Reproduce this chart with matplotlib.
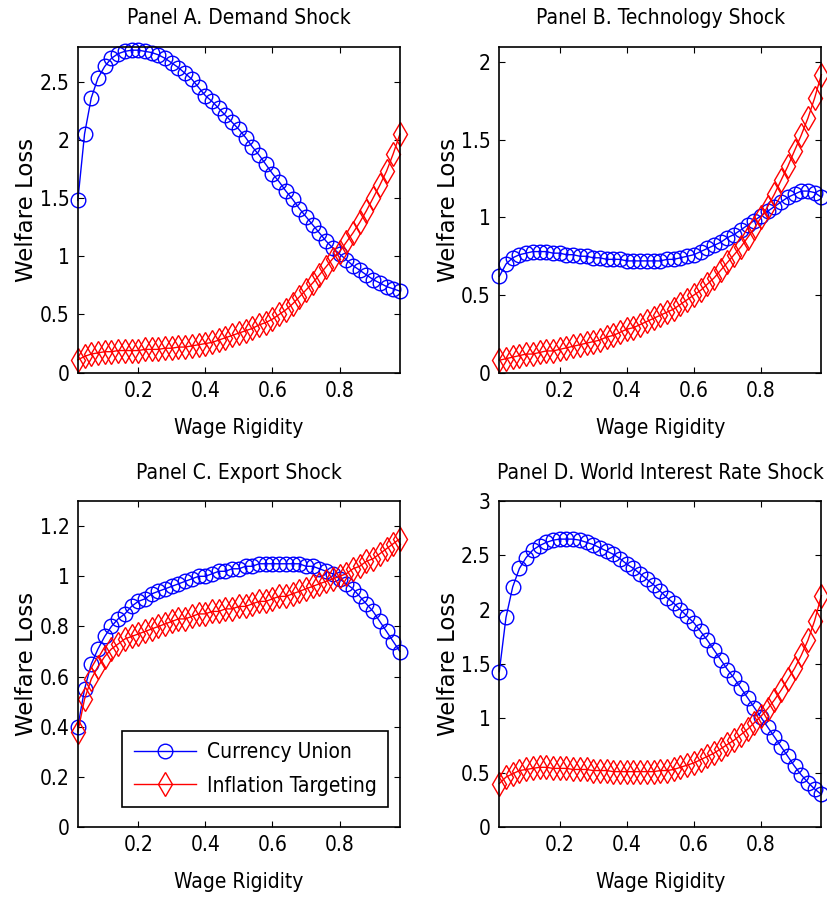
import matplotlib
matplotlib.use("Agg")
import matplotlib.pyplot as plt

plt.rcParams['font.family'] = ['DejaVu Sans']
plt.rcParams['font.stretch'] = 'condensed'

wage = [0.02, 0.04, 0.06, 0.08, 0.10, 0.12, 0.14, 0.16, 0.18, 0.20,
        0.22, 0.24, 0.26, 0.28, 0.30, 0.32, 0.34, 0.36, 0.38, 0.40,
        0.42, 0.44, 0.46, 0.48, 0.50, 0.52, 0.54, 0.56, 0.58, 0.60,
        0.62, 0.64, 0.66, 0.68, 0.70, 0.72, 0.74, 0.76, 0.78, 0.80,
        0.82, 0.84, 0.86, 0.88, 0.90, 0.92, 0.94, 0.96, 0.98]

# Panel A. Demand Shock
cu_a = [1.48, 2.05, 2.36, 2.53, 2.63, 2.70, 2.74, 2.76, 2.77, 2.77,
        2.76, 2.75, 2.73, 2.70, 2.66, 2.62, 2.57, 2.52, 2.45, 2.38,
        2.33, 2.27, 2.21, 2.15, 2.09, 2.02, 1.94, 1.87, 1.79, 1.71,
        1.64, 1.56, 1.49, 1.41, 1.34, 1.27, 1.20, 1.13, 1.07, 1.02,
        0.97, 0.92, 0.88, 0.84, 0.80, 0.77, 0.74, 0.72, 0.70]
it_a = [0.11, 0.14, 0.16, 0.17, 0.18, 0.18, 0.19, 0.19, 0.19, 0.19,
        0.20, 0.20, 0.20, 0.21, 0.21, 0.22, 0.22, 0.23, 0.24, 0.25,
        0.26, 0.28, 0.30, 0.32, 0.34, 0.36, 0.38, 0.41, 0.43, 0.46,
        0.50, 0.54, 0.59, 0.65, 0.71, 0.77, 0.84, 0.91, 0.98, 1.04,
        1.12, 1.20, 1.29, 1.39, 1.50, 1.61, 1.73, 1.88, 2.05]

# Panel B. Technology Shock
cu_b = [0.62, 0.70, 0.74, 0.76, 0.77, 0.78, 0.78, 0.78, 0.77, 0.77,
        0.76, 0.76, 0.75, 0.75, 0.74, 0.74, 0.73, 0.73, 0.73, 0.72,
        0.72, 0.72, 0.72, 0.72, 0.72, 0.73, 0.73, 0.74, 0.75, 0.76,
        0.78, 0.80, 0.82, 0.84, 0.87, 0.89, 0.92, 0.95, 0.98, 1.01,
        1.04, 1.07, 1.10, 1.13, 1.15, 1.17, 1.17, 1.16, 1.13]
it_b = [0.08, 0.09, 0.10, 0.11, 0.12, 0.12, 0.13, 0.14, 0.14, 0.15,
        0.16, 0.17, 0.18, 0.19, 0.20, 0.21, 0.23, 0.24, 0.26, 0.28,
        0.29, 0.31, 0.33, 0.35, 0.37, 0.39, 0.41, 0.44, 0.47, 0.50,
        0.53, 0.57, 0.61, 0.66, 0.71, 0.76, 0.81, 0.87, 0.93, 1.00,
        1.07, 1.15, 1.24, 1.33, 1.43, 1.53, 1.64, 1.77, 1.92]

# Panel C. Export Shock
cu_c = [0.40, 0.55, 0.65, 0.71, 0.76, 0.80, 0.83, 0.85, 0.88, 0.90,
        0.91, 0.93, 0.94, 0.95, 0.96, 0.97, 0.98, 0.99, 1.00, 1.00,
        1.01, 1.02, 1.02, 1.03, 1.03, 1.04, 1.04, 1.05, 1.05, 1.05,
        1.05, 1.05, 1.05, 1.05, 1.04, 1.04, 1.03, 1.02, 1.01, 0.99,
        0.97, 0.95, 0.92, 0.89, 0.86, 0.82, 0.78, 0.74, 0.70]
it_c = [0.38, 0.51, 0.59, 0.64, 0.68, 0.71, 0.73, 0.75, 0.76, 0.77,
        0.78, 0.79, 0.80, 0.81, 0.82, 0.83, 0.83, 0.84, 0.85, 0.85,
        0.86, 0.86, 0.87, 0.87, 0.88, 0.88, 0.89, 0.90, 0.90, 0.91,
        0.92, 0.92, 0.93, 0.94, 0.95, 0.96, 0.97, 0.98, 0.99, 1.00,
        1.01, 1.03, 1.04, 1.06, 1.07, 1.09, 1.11, 1.13, 1.15]

# Panel D. World Interest Rate Shock
cu_d = [1.43, 1.93, 2.21, 2.38, 2.48, 2.55, 2.59, 2.62, 2.64, 2.65,
        2.65, 2.65, 2.64, 2.62, 2.60, 2.57, 2.54, 2.51, 2.47, 2.42,
        2.38, 2.33, 2.28, 2.23, 2.17, 2.11, 2.06, 2.00, 1.94, 1.88,
        1.80, 1.72, 1.63, 1.54, 1.45, 1.37, 1.28, 1.19, 1.10, 1.01,
        0.92, 0.83, 0.74, 0.65, 0.56, 0.48, 0.41, 0.35, 0.30]
it_d = [0.40, 0.46, 0.49, 0.52, 0.53, 0.54, 0.55, 0.55, 0.54, 0.54,
        0.54, 0.53, 0.53, 0.53, 0.52, 0.52, 0.52, 0.51, 0.51, 0.51,
        0.51, 0.51, 0.51, 0.51, 0.52, 0.52, 0.53, 0.55, 0.57, 0.59,
        0.62, 0.65, 0.68, 0.72, 0.76, 0.80, 0.85, 0.90, 0.96, 1.02,
        1.09, 1.17, 1.26, 1.36, 1.46, 1.58, 1.72, 1.90, 2.13]

titles = ["Panel A. Demand Shock", "Panel B. Technology Shock",
          "Panel C. Export Shock", "Panel D. World Interest Rate Shock"]
ylims = [2.8, 2.1, 1.3, 3.0]
yticks = [[0, 0.5, 1, 1.5, 2, 2.5], [0, 0.5, 1, 1.5, 2],
          [0, 0.2, 0.4, 0.6, 0.8, 1, 1.2], [0, 0.5, 1, 1.5, 2, 2.5, 3]]
series = [(cu_a, it_a), (cu_b, it_b), (cu_c, it_c), (cu_d, it_d)]

fig = plt.figure(figsize=(8.28, 8.98), dpi=100)
positions = [[0.094, 0.585, 0.389, 0.363], [0.603, 0.585, 0.389, 0.363],
             [0.094, 0.079, 0.389, 0.363], [0.603, 0.079, 0.389, 0.363]]

fs = 15
for i in range(4):
    ax = fig.add_axes(positions[i])
    cu, it = series[i]
    ax.plot(wage, cu, color=(0, 0, 1), lw=1, marker='o', ms=10.5,
            mfc='none', mew=1, label='Currency Union', clip_on=False)
    ax.plot(wage, it, color=(1, 0, 0), lw=1, marker='d', ms=12,
            mfc='none', mew=1, label='Inflation Targeting', clip_on=False)
    ax.set_xlim(0.02, 0.98)
    ax.set_ylim(0, ylims[i])
    ax.set_xticks([0.2, 0.4, 0.6, 0.8])
    ax.set_xticklabels(['0.2', '0.4', '0.6', '0.8'])
    ax.set_yticks(yticks[i])
    ax.set_yticklabels([f'{t:g}' for t in yticks[i]])
    ax.tick_params(direction='in', top=True, right=True, length=4,
                   labelsize=fs, pad=6)
    for sp in ax.spines.values():
        sp.set_linewidth(1.2)
    ax.set_title(titles[i], fontsize=fs, pad=16)
    ax.set_xlabel("Wage Rigidity", fontsize=fs, labelpad=12)
    ax.set_ylabel("Welfare Loss", fontsize=16.5, labelpad=1,
                  fontstretch='normal')
    if i == 2:
        leg = ax.legend(loc='lower right', bbox_to_anchor=(0.963, 0.061),
                        borderaxespad=0, fontsize=fs, fancybox=False,
                        edgecolor='black', framealpha=1, handlelength=3.0,
                        borderpad=0.55, labelspacing=0.65, handletextpad=0.5)
        leg.get_frame().set_linewidth(1.2)

fig.savefig("out.png", dpi=100)
